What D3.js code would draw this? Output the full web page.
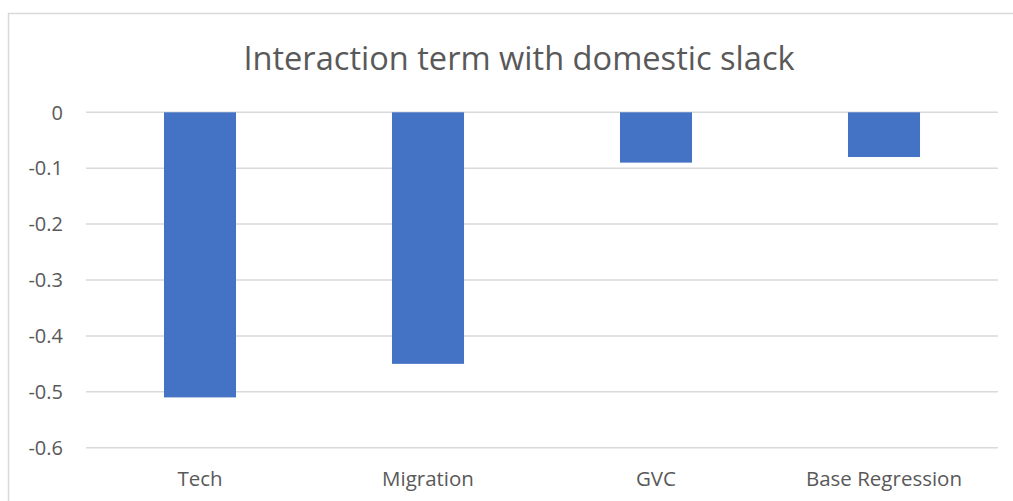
<!DOCTYPE html>
<html>
<head>
  <meta charset="utf-8">
  <script src="https://cdn.jsdelivr.net/npm/d3@7"></script>
  <style>
    body { margin: 0; background: #fff; }
    text { font-family: "Open Sans", sans-serif; fill: #595959; }
  </style>
</head>
<body>
<script>
  // chart data
  var categories = ["Tech", "Migration", "GVC", "Base Regression"];
  var values = [-0.51, -0.45, -0.09, -0.08];
  var yTicks = [0, -0.1, -0.2, -0.3, -0.4, -0.5, -0.6];
  var title = "Interaction term with domestic slack";

  var width = 1013, height = 501;
  var plot = { left: 86, right: 998, top: 112.3, bottom: 447.7 };

  var svg = d3.select("body").append("svg")
      .attr("width", width)
      .attr("height", height);

  // chart area border (runs off the right/bottom edge)
  svg.append("rect")
      .attr("x", 8.5).attr("y", 13.5)
      .attr("width", 1020).attr("height", 520)
      .attr("fill", "#fff")
      .attr("stroke", "#d9d9d9")
      .attr("stroke-width", 1.5);

  var x = d3.scaleBand()
      .domain(categories)
      .range([plot.left, plot.right])
      .paddingInner(0.684)
      .paddingOuter(0.342);

  var y = d3.scaleLinear()
      .domain([-0.6, 0])
      .range([plot.bottom, plot.top]);

  // gridlines
  svg.append("g").selectAll("line")
      .data(yTicks)
      .enter().append("line")
      .attr("x1", plot.left).attr("x2", plot.right)
      .attr("y1", function (d) { return y(d); })
      .attr("y2", function (d) { return y(d); })
      .attr("stroke", "#d9d9d9")
      .attr("stroke-width", 1.5);

  // y tick labels (plain hyphen, like Excel)
  svg.append("g").selectAll("text")
      .data(yTicks)
      .enter().append("text")
      .attr("x", 63)
      .attr("y", function (d) { return y(d); })
      .attr("dy", "0.36em")
      .attr("text-anchor", "end")
      .style("font-size", "20px")
      .text(function (d) { return d === 0 ? "0" : d.toFixed(1); });

  // bars
  svg.append("g").selectAll("rect")
      .data(values)
      .enter().append("rect")
      .attr("x", function (d, i) { return x(categories[i]); })
      .attr("y", y(0))
      .attr("width", x.bandwidth())
      .attr("height", function (d) { return y(d) - y(0); })
      .attr("fill", "#4472c4");

  // category labels
  svg.append("g").selectAll("text")
      .data(categories)
      .enter().append("text")
      .attr("x", function (d) { return x(d) + x.bandwidth() / 2; })
      .attr("y", 486)
      .attr("text-anchor", "middle")
      .style("font-size", "20.5px")
      .text(function (d) { return d; });

  // title
  svg.append("text")
      .attr("x", 519)
      .attr("y", 70)
      .attr("text-anchor", "middle")
      .style("font-size", "32.6px")
      .text(title);
</script>
</body>
</html>
